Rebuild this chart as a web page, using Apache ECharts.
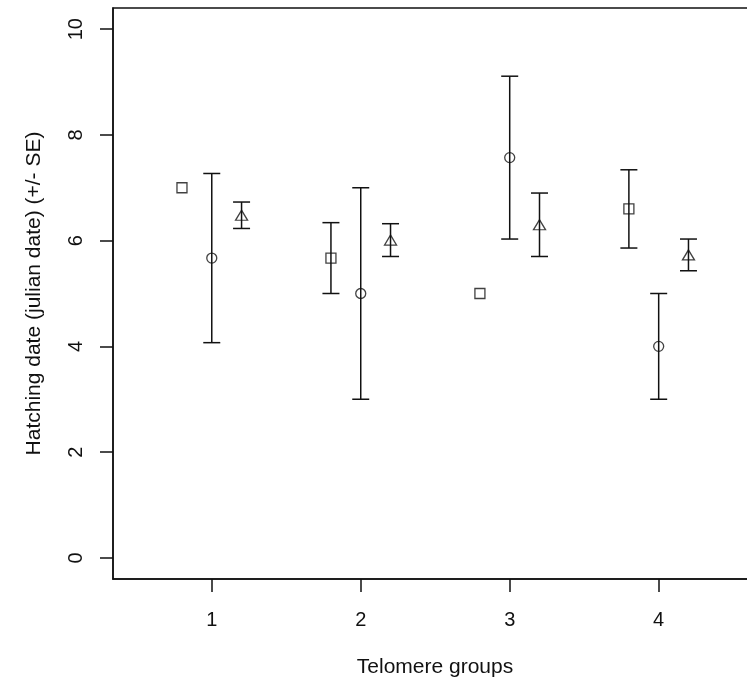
<!DOCTYPE html>
<html>
<head>
<meta charset="utf-8">
<script src="https://cdn.jsdelivr.net/npm/echarts@6/dist/echarts.min.js"></script>
<style>
html,body{margin:0;padding:0;background:#fff;}
#c{width:747px;height:689px;}
</style>
</head>
<body>
<div id="c"></div>
<script>
// ---- data ----
const groups = [1, 2, 3, 4];
const squareMean   = [7.0, 5.67, 5.0, 6.6];
const squareSE     = [null, 0.67, null, 0.74];
const circleMean   = [5.67, 5.0, 7.57, 4.0];
const circleSE     = [1.6, 2.0, 1.54, 1.0];
const triangleMean = [6.48, 6.01, 6.3, 5.73];
const triangleSE   = [0.25, 0.31, 0.6, 0.3];
const xTicks = [1, 2, 3, 4];
const yTicks = [0, 2, 4, 6, 8, 10];
const xTitle = 'Telomere groups';
const yTitle = 'Hatching date (julian date) (+/- SE)';

const FONT = "'Liberation Sans', Arial, sans-serif";
const INK = '#111';
const LW = 1.5;

function pts(means, off) { return groups.map((g, i) => [g + off, means[i]]); }
function errs(means, ses, off) {
  return groups.map((g, i) => [g + off, means[i], ses[i] == null ? 0 : ses[i], ses[i] == null ? 0 : 1]);
}

function errRender(params, api) {
  if (!api.value(3)) return;
  const x = api.value(0), m = api.value(1), s = api.value(2);
  const top = api.coord([x, m + s]);
  const bot = api.coord([x, m - s]);
  const hw = 8.5;
  const style = { stroke: INK, lineWidth: LW, fill: null };
  return {
    type: 'group',
    children: [
      { type: 'line', shape: { x1: top[0], y1: top[1], x2: bot[0], y2: bot[1] }, style },
      { type: 'line', shape: { x1: top[0] - hw, y1: top[1], x2: top[0] + hw, y2: top[1] }, style },
      { type: 'line', shape: { x1: bot[0] - hw, y1: bot[1], x2: bot[0] + hw, y2: bot[1] }, style }
    ]
  };
}

const markerStyle = { color: 'rgba(255,255,255,0)', borderColor: INK, borderWidth: 1.3 };

const chart = echarts.init(document.getElementById('c'), null, { renderer: 'canvas' });
chart.setOption({
  animation: false,
  backgroundColor: '#fff',
  grid: { left: 113, top: 8, right: -10, bottom: 110, outerBoundsMode: 'none', containLabel: false,
          show: true, borderColor: INK, borderWidth: LW, backgroundColor: 'transparent' },
  xAxis: {
    type: 'value', min: 0.337, max: 4.66,
    name: xTitle, nameLocation: 'middle', nameGap: 78,
    nameTextStyle: { fontFamily: FONT, fontSize: 21, color: INK },
    axisLine: { show: true, onZero: false, lineStyle: { color: INK, width: LW } },
    axisTick: { show: true, length: 13, inside: false, customValues: xTicks, lineStyle: { color: INK, width: LW } },
    axisLabel: { customValues: xTicks, margin: 31, fontFamily: FONT, fontSize: 20, color: INK },
    splitLine: { show: false }
  },
  yAxis: {
    type: 'value', min: -0.4, max: 10.4,
    name: yTitle, nameLocation: 'middle', nameGap: 68, nameRotate: 90,
    nameTextStyle: { fontFamily: FONT, fontSize: 21, color: INK },
    axisLine: { show: true, onZero: false, lineStyle: { color: INK, width: LW } },
    axisTick: { show: true, length: 13, inside: false, customValues: yTicks, lineStyle: { color: INK, width: LW } },
    axisLabel: { customValues: yTicks, rotate: 90, margin: 27, fontFamily: FONT, fontSize: 20, color: INK },
    splitLine: { show: false }
  },
  series: [
    { type: 'custom', renderItem: errRender, data: errs(squareMean, squareSE, -0.2), z: 3 },
    { type: 'custom', renderItem: errRender, data: errs(circleMean, circleSE, 0), z: 3 },
    { type: 'custom', renderItem: errRender, data: errs(triangleMean, triangleSE, 0.2), z: 3 },
    { type: 'scatter', symbol: 'rect', symbolSize: 10, data: pts(squareMean, -0.2), itemStyle: markerStyle, z: 4 },
    { type: 'scatter', symbol: 'circle', symbolSize: 10, data: pts(circleMean, 0), itemStyle: markerStyle, z: 4 },
    { type: 'scatter', symbol: 'triangle', symbolSize: [12, 10], data: pts(triangleMean, 0.2), itemStyle: markerStyle, z: 4 }
  ]
});
</script>
</body>
</html>
